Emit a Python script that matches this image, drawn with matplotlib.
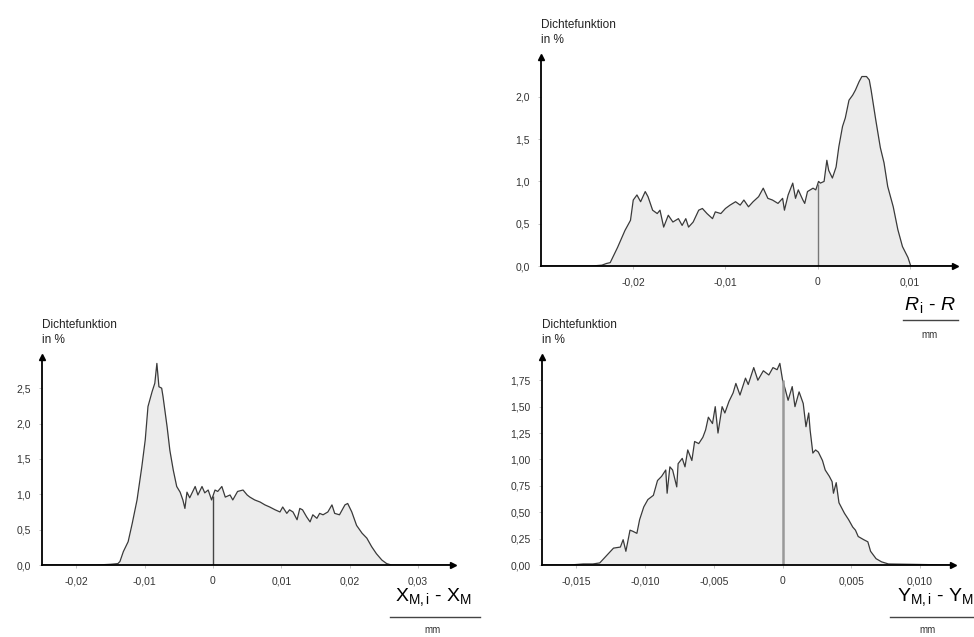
import matplotlib
matplotlib.use("Agg")
import matplotlib.pyplot as plt
import numpy as np

plt.rcParams['font.family'] = ['Liberation Sans', 'DejaVu Sans']
plt.rcParams['mathtext.fontset'] = 'custom'
plt.rcParams['mathtext.rm'] = 'Liberation Sans'
plt.rcParams['mathtext.it'] = 'Liberation Sans:italic'

# --- R_i - R (oben rechts) ---
r_x = [-0.0300, -0.0245, -0.0234, -0.0229, -0.0225, -0.0217, -0.0209, -0.0203, -0.0200, -0.0196,
       -0.0192, -0.0187, -0.0184, -0.0179, -0.0174, -0.0171, -0.0167, -0.0162, -0.0157, -0.0151,
       -0.0147, -0.0143, -0.0140, -0.0135, -0.0129, -0.0125, -0.0120, -0.0114, -0.0111, -0.0105,
       -0.0100, -0.0095, -0.0089, -0.0084, -0.0080, -0.0075, -0.0070, -0.0064, -0.0059, -0.0054,
       -0.0049, -0.0043, -0.0038, -0.0036, -0.0032, -0.0027, -0.0024, -0.0021, -0.0016, -0.0014,
       -0.0011, -0.0005, -0.0002, 0.0001, 0.0003, 0.0007, 0.0010, 0.0012, 0.0016, 0.0020,
       0.0023, 0.0027, 0.0030, 0.0034, 0.0038, 0.0041, 0.0045, 0.0048, 0.0053, 0.0056,
       0.0058, 0.0063, 0.0068, 0.0072, 0.0076, 0.0082, 0.0087, 0.0092, 0.0098, 0.0101, 0.0149]
r_y = [0, 0, 0.01, 0.03, 0.04, 0.22, 0.42, 0.54, 0.78, 0.84,
       0.76, 0.88, 0.82, 0.66, 0.62, 0.66, 0.46, 0.60, 0.52, 0.56,
       0.48, 0.56, 0.46, 0.52, 0.66, 0.68, 0.62, 0.56, 0.64, 0.62,
       0.68, 0.72, 0.76, 0.72, 0.78, 0.70, 0.76, 0.82, 0.92, 0.80,
       0.78, 0.74, 0.80, 0.66, 0.84, 0.98, 0.80, 0.90, 0.78, 0.74,
       0.88, 0.92, 0.90, 1.00, 0.98, 1.00, 1.25, 1.13, 1.04, 1.17,
       1.41, 1.65, 1.75, 1.96, 2.02, 2.08, 2.18, 2.24, 2.24, 2.20,
       2.08, 1.73, 1.40, 1.22, 0.94, 0.70, 0.43, 0.23, 0.10, 0.0, 0.0]
r_xticks = [-0.02, -0.01, 0, 0.01]
r_xlabels = ['-0,02', '-0,01', '0', '0,01']
r_yticks = [0, 0.5, 1.0, 1.5, 2.0]
r_ylabels = ['0,0', '0,5', '1,0', '1,5', '2,0']

# --- X_M,i - X_M (unten links) ---
x_x = [-0.0250, -0.0170, -0.0150, -0.0139, -0.0136, -0.0131, -0.0124, -0.0118, -0.0111, -0.0104,
       -0.0099, -0.0095, -0.0089, -0.0085, -0.0082, -0.0079, -0.0075, -0.0073, -0.0067, -0.0063,
       -0.0058, -0.0053, -0.0048, -0.0044, -0.0041, -0.0038, -0.0034, -0.0026, -0.0022, -0.0016,
       -0.0012, -0.0007, -0.0002, 0.0003, 0.0007, 0.0013, 0.0018, 0.0025, 0.0029, 0.0036,
       0.0044, 0.0050, 0.0054, 0.0061, 0.0069, 0.0076, 0.0083, 0.0091, 0.0098, 0.0102,
       0.0108, 0.0112, 0.0117, 0.0123, 0.0127, 0.0131, 0.0137, 0.0142, 0.0146, 0.0152,
       0.0156, 0.0161, 0.0168, 0.0174, 0.0178, 0.0185, 0.0193, 0.0197, 0.0203, 0.0210,
       0.0218, 0.0225, 0.0232, 0.0239, 0.0247, 0.0254, 0.0261, 0.0351]
x_y = [0, 0, 0.01, 0.02, 0.05, 0.19, 0.33, 0.59, 0.92, 1.39,
       1.77, 2.24, 2.45, 2.57, 2.85, 2.52, 2.50, 2.38, 1.95, 1.62,
       1.34, 1.11, 1.03, 0.92, 0.80, 1.03, 0.95, 1.11, 0.99, 1.11,
       1.02, 1.06, 0.92, 1.06, 1.04, 1.11, 0.96, 0.99, 0.92, 1.04,
       1.06, 0.99, 0.96, 0.92, 0.89, 0.85, 0.82, 0.78, 0.75, 0.82,
       0.73, 0.78, 0.75, 0.64, 0.80, 0.78, 0.68, 0.61, 0.71, 0.66,
       0.73, 0.71, 0.75, 0.85, 0.73, 0.71, 0.85, 0.87, 0.75, 0.56,
       0.45, 0.38, 0.26, 0.16, 0.07, 0.02, 0.0, 0.0]
x_xticks = [-0.02, -0.01, 0, 0.01, 0.02, 0.03]
x_xlabels = ['-0,02', '-0,01', '0', '0,01', '0,02', '0,03']
x_yticks = [0, 0.5, 1.0, 1.5, 2.0, 2.5]
x_ylabels = ['0,0', '0,5', '1,0', '1,5', '2,0', '2,5']

# --- Y_M,i - Y_M (unten rechts) ---
y_x = [-0.0175, -0.0155, -0.0145, -0.0138, -0.0133, -0.0128, -0.0123, -0.0118, -0.0116, -0.0114,
       -0.0111, -0.0109, -0.0106, -0.0104, -0.0101, -0.0098, -0.0094, -0.0091, -0.0088, -0.0085,
       -0.0084, -0.0082, -0.0080, -0.0077, -0.0076, -0.0073, -0.0071, -0.0069, -0.0066, -0.0064,
       -0.0061, -0.0058, -0.0056, -0.0054, -0.0051, -0.0049, -0.0047, -0.0044, -0.0042, -0.0039,
       -0.0036, -0.0034, -0.0031, -0.0027, -0.0025, -0.0021, -0.0018, -0.0014, -0.0010, -0.0007,
       -0.0004, -0.0002, 0.0, 0.0002, 0.0004, 0.0007, 0.0009, 0.0012, 0.0015, 0.0017,
       0.0019, 0.0020, 0.0022, 0.0024, 0.0026, 0.0029, 0.0031, 0.0034, 0.0036, 0.0037,
       0.0039, 0.0041, 0.0045, 0.0048, 0.0051, 0.0053, 0.0055, 0.0059, 0.0062, 0.0064,
       0.0068, 0.0072, 0.0077, 0.0124]
y_y = [0, 0, 0.01, 0.01, 0.02, 0.09, 0.16, 0.17, 0.24, 0.13,
       0.33, 0.32, 0.30, 0.43, 0.55, 0.62, 0.66, 0.80, 0.84, 0.90,
       0.68, 0.93, 0.90, 0.74, 0.96, 1.01, 0.93, 1.09, 0.99, 1.17,
       1.15, 1.21, 1.28, 1.40, 1.34, 1.50, 1.25, 1.50, 1.44, 1.55,
       1.63, 1.72, 1.61, 1.77, 1.71, 1.87, 1.75, 1.84, 1.80, 1.87,
       1.85, 1.91, 1.75, 1.66, 1.56, 1.69, 1.50, 1.64, 1.53, 1.31,
       1.44, 1.28, 1.06, 1.09, 1.07, 0.99, 0.90, 0.84, 0.79, 0.68,
       0.78, 0.59, 0.49, 0.43, 0.36, 0.33, 0.27, 0.24, 0.22, 0.13,
       0.06, 0.03, 0.01, 0.0]
y_xticks = [-0.015, -0.010, -0.005, 0, 0.005, 0.010]
y_xlabels = ['-0,015', '-0,010', '-0,005', '0', '0,005', '0,010']
y_yticks = [0, 0.25, 0.5, 0.75, 1.0, 1.25, 1.5, 1.75]
y_ylabels = ['0,00', '0,25', '0,50', '0,75', '1,00', '1,25', '1,50', '1,75']

fig = plt.figure(figsize=(9.74, 6.37), dpi=100)


def panel(rect, xs, ys, xlim, ylim, xticks, xlabels, yticks, ylabels, zero_color, zero_lw):
    ax = fig.add_axes(rect)
    ax.fill_between(xs, ys, 0, color='#ececec', lw=0)
    ax.plot(xs, ys, color='#3a3a3a', lw=0.9)
    # senkrechte Linie bei 0
    ax.vlines(0, 0, np.interp(0, xs, ys), color=zero_color, lw=zero_lw)
    ax.set_xlim(xlim)
    ax.set_ylim(ylim)
    ax.set_xticks(xticks)
    ax.set_xticklabels(xlabels)
    ax.set_yticks(yticks)
    ax.set_yticklabels(ylabels)
    ax.tick_params(length=2, width=0.6, color='#bbbbbb', labelsize=7.5, labelcolor='#333333', pad=6)
    ax.spines[['top', 'right']].set_visible(False)
    ax.spines[['left', 'bottom']].set_linewidth(1.3)
    # Pfeile an den Achsen
    ax.plot(1, 0, '>', color='black', ms=5, transform=ax.transAxes, clip_on=False)
    ax.plot(0, 1, '^', color='black', ms=5, transform=ax.transAxes, clip_on=False)
    ax.text(0, 1.055, 'Dichtefunktion\nin %', transform=ax.transAxes, fontsize=8.5,
            color='#222222', va='bottom', ha='left', linespacing=1.3)
    return ax


panel([0.5555, 0.5824, 0.425, 0.328], r_x, r_y, (-0.0300, 0.0149), (0, 2.47),
      r_xticks, r_xlabels, r_yticks, r_ylabels, '#777777', 1.0)
panel([0.0431, 0.1130, 0.422, 0.3265], x_x, x_y, (-0.0250, 0.0351), (0, 2.94),
      x_xticks, x_xlabels, x_yticks, x_ylabels, '#444444', 1.0)
panel([0.5565, 0.1130, 0.422, 0.3265], y_x, y_y, (-0.0175, 0.0124), (0, 1.97),
      y_xticks, y_xlabels, y_yticks, y_ylabels, '#999999', 1.8)

# Achsenbeschriftungen als Bruch mit "mm"
fig.text(930 / 974, 1 - 305 / 637, r'$\mathit{R}_{\,\mathrm{i}}$ - $\mathit{R}$', fontsize=14,
         ha='center', va='center')
fig.add_artist(plt.Line2D([903 / 974, 958 / 974], [1 - 320 / 637] * 2, color='#444444', lw=1))
fig.text(930 / 974, 1 - 335 / 637, 'mm', fontsize=7, ha='center', va='center', color='#333333')

fig.text(433 / 974, 1 - 597 / 637, r'$\mathrm{X}_{\mathrm{M,i}}$ - $\mathrm{X}_{\mathrm{M}}$', fontsize=14,
         ha='center', va='center')
fig.add_artist(plt.Line2D([390 / 974, 480 / 974], [1 - 617 / 637] * 2, color='#444444', lw=1))
fig.text(433 / 974, 1 - 630 / 637, 'mm', fontsize=7, ha='center', va='center', color='#333333')

fig.text(935 / 974, 1 - 597 / 637, r'$\mathrm{Y}_{\mathrm{M,i}}$ - $\mathrm{Y}_{\mathrm{M}}$', fontsize=14,
         ha='center', va='center')
fig.add_artist(plt.Line2D([890 / 974, 1.0], [1 - 617 / 637] * 2, color='#444444', lw=1))
fig.text(928 / 974, 1 - 630 / 637, 'mm', fontsize=7, ha='center', va='center', color='#333333')

fig.savefig('out.png', dpi=100)
